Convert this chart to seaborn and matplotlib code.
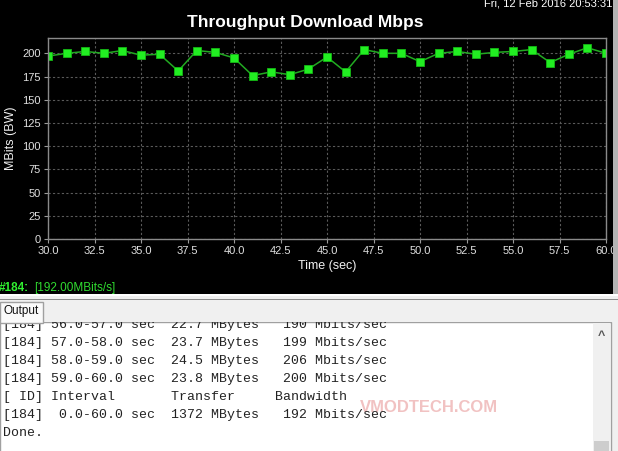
import matplotlib
matplotlib.use("Agg")
import matplotlib.pyplot as plt
import seaborn as sns
import pandas as pd
from matplotlib.patches import Rectangle

# throughput samples (end of each 1 s interval)
times = list(range(30, 61))
mbits = [197, 200, 202, 200, 203, 198, 199, 181, 203, 201, 195,
         176, 180, 177, 183, 196, 180, 204, 200, 200, 191,
         200, 202, 199, 201, 202, 204, 190, 199, 206, 200]
x_ticks = [30.0, 32.5, 35.0, 37.5, 40.0, 42.5, 45.0, 47.5, 50.0, 52.5, 55.0, 57.5, 60.0]
y_ticks = [0, 25, 50, 75, 100, 125, 150, 175, 200]

output_lines = [
    "[184] 56.0-57.0 sec  22.7 MBytes   190 Mbits/sec",
    "[184] 57.0-58.0 sec  23.7 MBytes   199 Mbits/sec",
    "[184] 58.0-59.0 sec  24.5 MBytes   206 Mbits/sec",
    "[184] 59.0-60.0 sec  23.8 MBytes   200 Mbits/sec",
    "[ ID] Interval       Transfer     Bandwidth",
    "[184]  0.0-60.0 sec  1372 MBytes   192 Mbits/sec",
    "Done.",
]

W, H = 618, 451

sns.set_style("dark", rc={"axes.facecolor": "black", "figure.facecolor": "black",
                          "axes.edgecolor": "#8a8a8a", "grid.color": "#5a5a5a"})
plt.rcParams["font.family"] = ["Liberation Sans", "DejaVu Sans"]


def fx(x):
    return x / W


def fy(y):
    return 1 - y / H


def box(x0, y0, x1, y1, fc, ec="none", z=1, lw=1):
    fig.patches.append(Rectangle((fx(x0), fy(y1)), fx(x1) - fx(x0), fy(y0) - fy(y1),
                                 transform=fig.transFigure, facecolor=fc, edgecolor=ec,
                                 linewidth=lw, zorder=z))


fig = plt.figure(figsize=(W / 100, H / 100), dpi=100, facecolor="black")
ax = fig.add_axes([fx(48), fy(239), fx(606) - fx(48), fy(38) - fy(239)])

df = pd.DataFrame({"Time (sec)": times, "MBits (BW)": mbits})
sns.lineplot(data=df, x="Time (sec)", y="MBits (BW)", ax=ax, color="#22aa22", linewidth=1.1,
             marker="s", markersize=5.3, markerfacecolor="#22ee22", markeredgecolor="#14b814",
             markeredgewidth=0.6)

ax.set_xlim(30, 60)
ax.set_ylim(0, 216.5)
ax.set_xticks(x_ticks)
ax.set_xticklabels([f"{t:.1f}" for t in x_ticks])
ax.set_yticks(y_ticks)
ax.grid(True, color="#5a5a5a", linestyle=(0, (2, 2)), linewidth=0.8)
ax.tick_params(colors="#9a9a9a", labelcolor="#e0e0e0", labelsize=8, length=3, width=0.8,
               bottom=True, left=True, pad=2)
for s in ax.spines.values():
    s.set_color("#8a8a8a")
    s.set_linewidth(1)
ax.set_xlabel("Time (sec)", color="#f0f0f0", fontsize=9, labelpad=3)
ax.set_ylabel("MBits (BW)", color="#f0f0f0", fontsize=9, labelpad=4)

fig.text(fx(305), fy(22), "Throughput Download Mbps", color="white", fontsize=12.5,
         fontweight="bold", ha="center", va="center")
fig.text(fx(612), fy(3), "Fri, 12 Feb 2016 20:53:31", color="white", fontsize=8,
         ha="right", va="center")

# right edge of the graph panel
box(613, 0, 618, 294, "#b4b4b4", z=1)

# status line
fig.text(fx(-1), fy(288), "#184:", color="#30ee30", fontsize=8.5, fontweight="bold",
         va="center")
fig.text(fx(34), fy(288), "[192.00MBits/s]", color="#30dd30", fontsize=8.5, va="center")

# output panel
box(0, 294, 618, 451, "#f0f0f0", z=1)
box(0, 294, 618, 296, "#ffffff", z=1)
box(0, 298.5, 618, 300, "#8c8c8c", z=1)
box(0, 322, 611, 452, "white", ec="#a0a0a0", z=1.5)
box(593, 323, 610, 451, "#f0f0f0", z=1.6)
box(594, 441, 609, 451, "#cdcdcd", z=1.7)
fig.text(fx(601), fy(336), "^", color="#555555", fontsize=9, fontweight="bold",
         ha="center", va="center", zorder=2)

fig.text(fx(429), fy(408), "VMODTECH.COM", color="#f0bcbc", fontsize=12,
         fontweight="bold", ha="center", va="center", alpha=0.9, zorder=1.8)

for i, line in enumerate(output_lines):
    fig.text(fx(3), fy(325 + 18 * i), line, family="Liberation Mono", fontsize=9.5,
             color="#222222", va="center", zorder=2)

# tab strip drawn over the first, half hidden line
box(0, 300, 618, 322, "#f0f0f0", z=3)
box(0, 302, 43, 323, "#fafafa", ec="#a0a0a0", z=4)
fig.text(fx(4), fy(311), "Output", color="#111111", fontsize=8.5, va="center", zorder=5)

fig.savefig("out.png", dpi=100, facecolor="black")
